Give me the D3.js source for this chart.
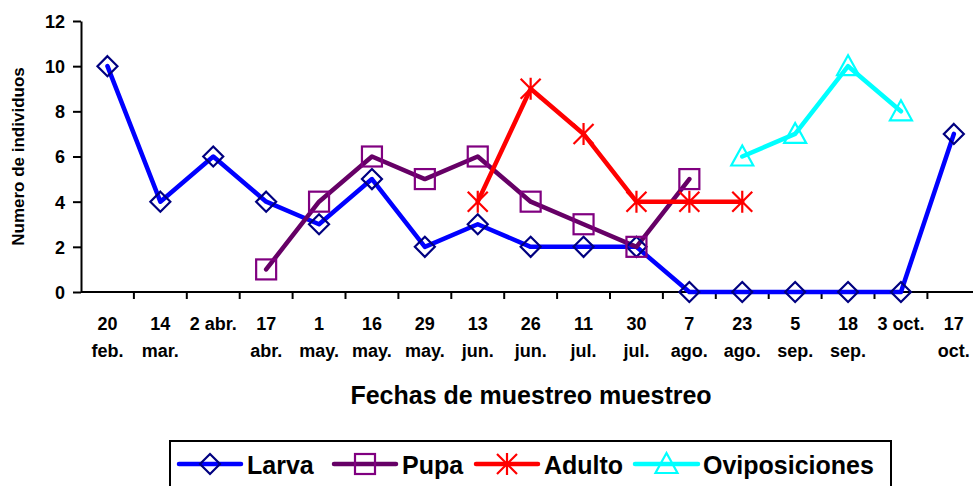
<!DOCTYPE html>
<html>
<head>
<meta charset="utf-8">
<script src="https://cdn.jsdelivr.net/npm/d3@7"></script>
<style>
  body { margin: 0; background: #fff; }
  svg { display: block; font-family: "Liberation Sans", Arial, sans-serif; font-weight: bold; }
</style>
</head>
<body>
<div id="chart"></div>
<script>
// fechas de muestreo (dos lineas por etiqueta)
const fechaDia = ["20", "14", "2 abr.", "17", "1", "16", "29", "13", "26", "11", "30", "7", "23", "5", "18", "3 oct.", "17"]
const fechaMes = ["feb.", "mar.", "", "abr.", "may.", "may.", "may.", "jun.", "jun.", "jul.", "jul.", "ago.", "ago.", "sep.", "sep.", "", "oct."]

// numero de individuos por fecha (null = sin dato)
const larva = [10, 4, 6, 4, 3, 5, 2, 3, 2, 2, 2, 0, 0, 0, 0, 0, 7]
const pupa = [null, null, null, 1, 4, 6, 5, 6, 4, 3, 2, 5, null, null, null, null, null]
const adulto = [null, null, null, null, null, null, null, 4, 9, 7, 4, 4, 4, null, null, null, null]
const oviposiciones = [null, null, null, null, null, null, null, null, null, null, null, null, 6, 7, 10, 8, null]

const yTicks = [0, 2, 4, 6, 8, 10, 12]

const width = 973
const height = 486
const margin = { top: 21, left: 81, bottom: 194 }
const plotRight = 980.3
const plotBottom = height - margin.bottom // 292

const series = [
    { name: 'Larva', values: larva, line: '#0000ff', marker: '#000080', shape: 'diamond' },
    { name: 'Pupa', values: pupa, line: '#660066', marker: '#800080', shape: 'square' },
    { name: 'Adulto', values: adulto, line: '#ff0000', marker: '#ff0000', shape: 'star' },
    { name: 'Oviposiciones', values: oviposiciones, line: '#00ffff', marker: '#00ffff', shape: 'triangle' }
]

const svg = d3.select('#chart').append('svg')
    .attr('width', width).attr('height', height)

const idx = d3.range(fechaDia.length)
const x = d3.scaleBand().domain(idx).range([margin.left, plotRight])
const xc = i => x(i) + x.bandwidth() / 2
const y = d3.scaleLinear().domain([0, 12]).range([plotBottom, margin.top])

// eje Y
const yAxisG = svg.append('g')
    .attr('transform', `translate(${margin.left},0)`)
    .call(d3.axisLeft(y).tickValues(yTicks).tickSize(8).tickSizeOuter(0).tickPadding(8))
yAxisG.select('.domain').attr('stroke-width', 2)
yAxisG.selectAll('.tick line').attr('stroke-width', 2)
yAxisG.selectAll('.tick text').attr('font-size', 18).attr('font-family', null).attr('dy', '0.36em')

// eje X: linea + marcas entre categorias
svg.append('line')
    .attr('x1', margin.left).attr('x2', width)
    .attr('y1', plotBottom).attr('y2', plotBottom)
    .attr('stroke', '#000').attr('stroke-width', 2)
svg.append('g').selectAll('line')
    .data(idx.slice(1).concat([idx.length]))
    .join('line')
    .attr('x1', i => i < idx.length ? x(i) : plotRight)
    .attr('x2', i => i < idx.length ? x(i) : plotRight)
    .attr('y1', plotBottom).attr('y2', plotBottom + 7)
    .attr('stroke', '#000').attr('stroke-width', 2)

const labels = svg.append('g').attr('font-size', 18).attr('text-anchor', 'middle')
labels.selectAll('text.dia').data(idx).join('text')
    .attr('class', 'dia')
    .attr('x', xc).attr('y', 330)
    .text(i => fechaDia[i])
labels.selectAll('text.mes').data(idx).join('text')
    .attr('class', 'mes')
    .attr('x', xc).attr('y', 357)
    .text(i => fechaMes[i])

// titulos de ejes
svg.append('text')
    .attr('x', 531).attr('y', 404)
    .attr('text-anchor', 'middle').attr('font-size', 25)
    .text('Fechas de muestreo muestreo')
svg.append('text')
    .attr('transform', `translate(24, ${(65 + 248) / 2}) rotate(-90)`)
    .attr('text-anchor', 'middle').attr('font-size', 17)
    .text('Numero de individuos')

// dibuja un marcador en (cx, cy)
function drawMarker(g, shape, color, cx, cy) {
    if (shape === 'diamond') {
        g.append('path')
            .attr('d', `M${cx},${cy - 10}L${cx + 10},${cy}L${cx},${cy + 10}L${cx - 10},${cy}Z`)
            .attr('fill', 'none').attr('stroke', color).attr('stroke-width', 2.2)
    } else if (shape === 'square') {
        g.append('rect')
            .attr('x', cx - 10).attr('y', cy - 10).attr('width', 20).attr('height', 20)
            .attr('fill', 'none').attr('stroke', color).attr('stroke-width', 2.2)
    } else if (shape === 'star') {
        const r = 10
        g.append('path')
            .attr('d', `M${cx - r},${cy - r}L${cx + r},${cy + r}M${cx - r},${cy + r}L${cx + r},${cy - r}M${cx},${cy - r - 1}L${cx},${cy + r + 1}`)
            .attr('fill', 'none').attr('stroke', color).attr('stroke-width', 2.2)
    } else if (shape === 'triangle') {
        g.append('path')
            .attr('d', `M${cx},${cy - 11}L${cx + 11},${cy + 9}L${cx - 11},${cy + 9}Z`)
            .attr('fill', 'none').attr('stroke', color).attr('stroke-width', 2.2)
    }
}

// series
const line = d3.line()
    .defined(i => i.v !== null)
    .x(d => xc(d.i))
    .y(d => y(d.v))

series.forEach(s => {
    const pts = s.values.map((v, i) => ({ i, v }))
    svg.append('path')
        .datum(pts)
        .attr('d', d3.line().defined(d => d.v !== null).x(d => xc(d.i)).y(d => y(d.v)))
        .attr('fill', 'none')
        .attr('stroke', s.line)
        .attr('stroke-width', 4.5)
        .attr('stroke-linejoin', 'round')
        .attr('stroke-linecap', 'round')
})
series.forEach(s => {
    const g = svg.append('g')
    s.values.forEach((v, i) => {
        if (v !== null) drawMarker(g, s.shape, s.marker, xc(i), y(v))
    })
})

// leyenda
const legend = svg.append('g')
legend.append('rect')
    .attr('x', 170).attr('y', 441).attr('width', 721).attr('height', 60)
    .attr('fill', '#fff').attr('stroke', '#000').attr('stroke-width', 2)
const legendPos = [
    { x1: 179, x2: 241, tx: 247 },
    { x1: 334, x2: 396, tx: 402 },
    { x1: 476, x2: 538, tx: 544 },
    { x1: 635, x2: 698, tx: 703 }
]
series.forEach((s, k) => {
    const p = legendPos[k]
    const ly = 464
    legend.append('line')
        .attr('x1', p.x1).attr('x2', p.x2).attr('y1', ly).attr('y2', ly)
        .attr('stroke', s.line).attr('stroke-width', 4.5).attr('stroke-linecap', 'round')
    drawMarker(legend, s.shape, s.marker, (p.x1 + p.x2) / 2, ly)
    legend.append('text')
        .attr('x', p.tx).attr('y', 474)
        .attr('font-size', 25)
        .text(s.name)
})
</script>
</body>
</html>
